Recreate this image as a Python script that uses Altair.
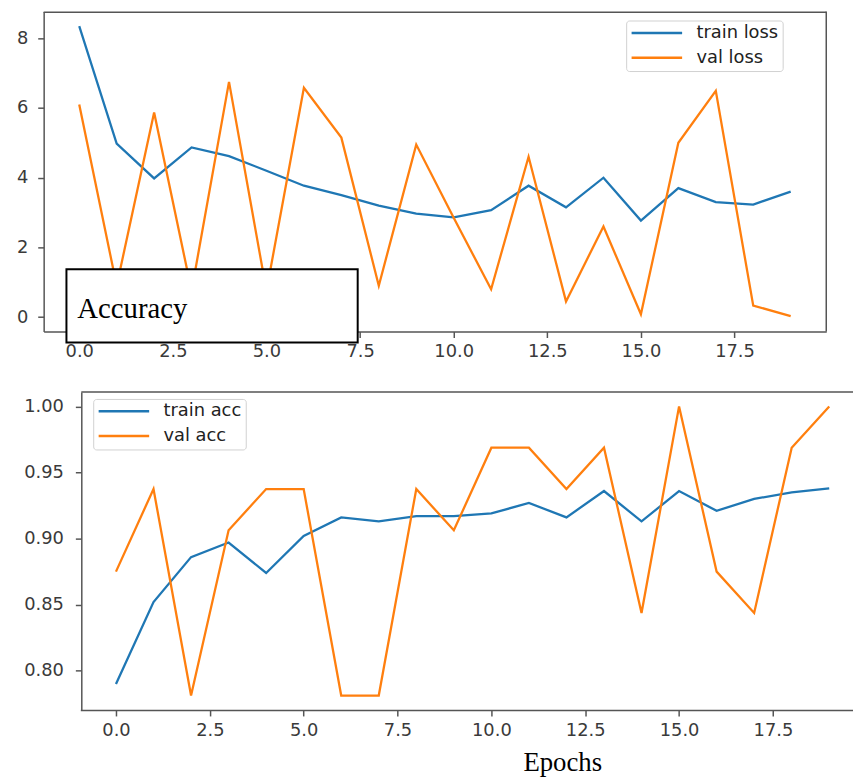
import altair as alt
import pandas as pd

# ---- data ----
epochs = list(range(20))
train_loss = [8.35, 4.98, 3.98, 4.87, 4.62, 4.2, 3.77, 3.5, 3.2, 2.97,
              2.86, 3.07, 3.77, 3.15, 4.0, 2.77, 3.7, 3.3, 3.23, 3.6]
val_loss = [6.1, 0.9, 5.87, 0.75, 6.75, 0.75, 6.58, 5.15, 0.9, 4.95,
            2.85, 0.8, 4.6, 0.45, 2.6, 0.08, 5.0, 6.49, 0.33, 0.03]
train_acc = [0.790, 0.852, 0.886, 0.897, 0.874, 0.902, 0.916, 0.913, 0.917, 0.917,
             0.919, 0.927, 0.916, 0.936, 0.913, 0.936, 0.921, 0.930, 0.935, 0.938]
val_acc = [0.875, 0.9375, 0.78125, 0.90625, 0.9375, 0.9375, 0.78125, 0.78125, 0.9375, 0.90625,
           0.96875, 0.96875, 0.9375, 0.96875, 0.84375, 1.0, 0.875, 0.84375, 0.96875, 1.0]

loss_labels = ["train loss", "val loss"]
acc_labels = ["train acc", "val acc"]
x_ticks = [0, 2.5, 5, 7.5, 10, 12.5, 15, 17.5]
loss_ticks = [0, 2, 4, 6, 8]
acc_ticks = [0.80, 0.85, 0.90, 0.95, 1.00]
line_colors = ["#1f77b4", "#ff7f0e"]
annotation = ["Accuracy"]
x_title = ["Epochs"]

loss_df = pd.DataFrame({
    "epoch": epochs + epochs,
    "value": train_loss + val_loss,
    "series": [loss_labels[0]] * len(epochs) + [loss_labels[1]] * len(epochs),
})
acc_df = pd.DataFrame({
    "epoch": epochs + epochs,
    "value": train_acc + val_acc,
    "series": [acc_labels[0]] * len(epochs) + [acc_labels[1]] * len(epochs),
})

W, H = 853, 770
FRAME = "#555555"
TICKFONT = "DejaVu Sans"

def axis(**kw):
    base = dict(domainColor=FRAME, domainWidth=1.5, tickColor=FRAME, tickWidth=1.5,
                tickSize=6, labelFont=TICKFONT, labelFontSize=18, labelColor="#3a3a3a",
                grid=False, labelOverlap=False, labelFlush=False)
    base.update(kw)
    return alt.Axis(**base)

def legend(x, y):
    return alt.Legend(orient="none", legendX=x, legendY=y, title=None,
                      symbolType="stroke", symbolSize=2601, symbolStrokeWidth=2.5,
                      clipHeight=17, rowPadding=6, padding=4, labelOffset=13,
                      labelFont=TICKFONT, labelFontSize=18, labelColor="#222222",
                      fillColor="rgba(255,255,255,0.85)", strokeColor="#d0d0d0",
                      cornerRadius=3)

# top panel: loss
loss = alt.Chart(loss_df).mark_line(strokeWidth=2.3).encode(
    x=alt.X("epoch:Q", title=None,
            scale=alt.Scale(domain=[-0.95, 19.95], range=[36, 826], nice=False, zero=False),
            axis=axis(orient="bottom", offset=323 - H, values=x_ticks, format=".1f", labelPadding=5)),
    y=alt.Y("value:Q", title=None,
            scale=alt.Scale(domain=[-0.416, 8.766], range=[323, 0], nice=False, zero=False),
            axis=axis(orient="left", offset=-36, values=loss_ticks, format="d", labelPadding=10)),
    color=alt.Color("series:N", scale=alt.Scale(domain=loss_labels, range=line_colors),
                    legend=legend(624, 9)),
    order=alt.Order("epoch:Q"),
)

# bottom panel: accuracy
acc = alt.Chart(acc_df).mark_line(strokeWidth=2.3).encode(
    x=alt.X("epoch:Q", title=None,
            scale=alt.Scale(domain=[-0.95, 19.95], range=[73, 865], nice=False, zero=False),
            axis=axis(orient="bottom", offset=705 - H, values=x_ticks, format=".1f", labelPadding=6)),
    y=alt.Y("value:Q", title=None,
            scale=alt.Scale(domain=[0.7703, 1.0109], range=[705, 384], nice=False, zero=False),
            axis=axis(orient="left", offset=-74, values=acc_ticks, format=".2f", labelPadding=12)),
    color=alt.Color("series:N", scale=alt.Scale(domain=acc_labels, range=line_colors),
                    legend=legend(86, 391)),
    order=alt.Order("epoch:Q"),
)

one = pd.DataFrame({"k": [0]})

# frame edges not covered by the axis domain lines
top_edge = alt.Chart(one).mark_rule(color=FRAME, strokeWidth=1.5).encode(
    x=alt.value(36), x2=alt.value(826), y=alt.value(0.75))
right_edge = alt.Chart(one).mark_rule(color=FRAME, strokeWidth=1.5).encode(
    x=alt.value(826), y=alt.value(0), y2=alt.value(323))
bottom_top_edge = alt.Chart(one).mark_rule(color=FRAME, strokeWidth=1.5).encode(
    x=alt.value(74), x2=alt.value(W), y=alt.value(384))

# overlaid "Accuracy" box
box = alt.Chart(one).mark_rect(fill="white", stroke="black", strokeWidth=2).encode(
    x=alt.value(59), x2=alt.value(353), y=alt.value(260), y2=alt.value(334))
box_text = alt.Chart(pd.DataFrame({"t": annotation})).mark_text(
    font="Liberation Serif", fontSize=29, align="left", baseline="alphabetic", color="black"
).encode(x=alt.value(70), y=alt.value(309), text="t:N")

epochs_text = alt.Chart(pd.DataFrame({"t": x_title})).mark_text(
    font="Liberation Serif", fontSize=27, align="center", baseline="alphabetic", color="black"
).encode(x=alt.value(560), y=alt.value(767), text="t:N")

chart = alt.layer(
    loss, acc, top_edge, right_edge, bottom_top_edge, box, box_text, epochs_text
).resolve_scale(
    x="independent", y="independent", color="independent"
).properties(
    width=W, height=H, padding=0,
    autosize=alt.AutoSizeParams(type="none"),
    background="white",
).configure_view(strokeWidth=0)

chart.save("out.html", embed_options={"renderer": "svg", "actions": False})
